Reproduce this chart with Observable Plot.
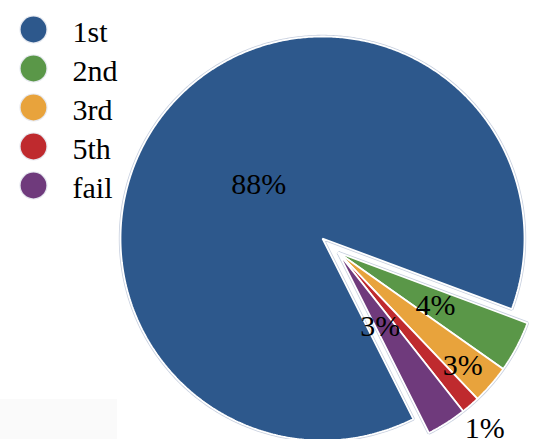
<!DOCTYPE html>
<html>
<head>
<meta charset="utf-8">
<script src="https://cdn.jsdelivr.net/npm/d3@7"></script>
<script src="https://cdn.jsdelivr.net/npm/@observablehq/plot@0.6"></script>
<style>
  html, body { margin: 0; padding: 0; background: #ffffff; }
  #wrap { position: relative; width: 535px; height: 439px; overflow: hidden; }
  #wrap > * { position: absolute; left: 0; top: 0; }
  #shade { left: 0; top: 399px; width: 117px; height: 40px; background: #fafafa; }
</style>
</head>
<body>
<div id="wrap"><div id="shade"></div></div>
<script>
// ---- data ----
const categories = ["1st", "2nd", "3rd", "5th", "fail"];
const values = [88.1, 4.1, 3.1, 1.5, 3.2];
const pctLabels = ["88%", "4%", "3%", "1%", "3%"];
const colors = ["#2d588c", "#5a9748", "#e8a33c", "#bf2a2e", "#6f3a7c"];

// ---- layout (not data) ----
const startAngle = 153.3;            // degrees, clockwise from 12 o'clock
const exploded = [false, true, true, true, true];
const explodeDist = 0.104;           // in radius units, whole exploded group
const labelRadius = [0.413, 0.651, 0.936, 1.236, 0.519];
const labelNudge = [-1.7, 2.9, 1.3, 0.4, -1.0]; // degrees
const font = "Liberation Serif";

const total = d3.sum(values);
const rad = Math.PI / 180;
const toXY = (aDeg, r) => [r * Math.sin(aDeg * rad), r * Math.cos(aDeg * rad)];

let acc = startAngle;
const slices = categories.map((c, i) => {
  const a0 = acc;
  const a1 = acc + 360 * values[i] / total;
  acc = a1;
  return {cat: c, i, a0, a1, mid: (a0 + a1) / 2};
});
const grp = slices.filter((s, i) => exploded[i]);
const grpMid = (d3.min(grp, s => s.a0) + d3.max(grp, s => s.a1)) / 2;
const [gdx, gdy] = toXY(grpMid, explodeDist);

const pts = [];
for (const s of slices) {
  const ox = exploded[s.i] ? gdx : 0;
  const oy = exploded[s.i] ? gdy : 0;
  pts.push({cat: s.cat, x: ox, y: oy});
  const n = Math.max(2, Math.ceil((s.a1 - s.a0) / 0.5));
  for (let k = 0; k <= n; k++) {
    const a = s.a0 + (s.a1 - s.a0) * k / n;
    const [x, y] = toXY(a, 1);
    pts.push({cat: s.cat, x: x + ox, y: y + oy});
  }
}
const labels = slices.map(s => {
  const [x, y] = toXY(s.mid + labelNudge[s.i], labelRadius[s.i]);
  return {text: pctLabels[s.i], x, y};
});

const colorScale = {type: "ordinal", domain: categories, range: colors};

const pie = Plot.plot({
  width: 535,
  height: 439,
  margin: 0,
  style: {background: "transparent", overflow: "visible"},
  x: {domain: [-1, 1], range: [120, 524], axis: null},
  y: {domain: [-1, 1], range: [440, 36], axis: null},
  color: colorScale,
  marks: [
    Plot.line(pts, {x: "x", y: "y", z: "cat", curve: "linear-closed",
      stroke: "#c8d0df", strokeWidth: 3.4, strokeLinejoin: "miter", fill: "none"}),
    Plot.line(pts, {x: "x", y: "y", z: "cat", curve: "linear-closed",
      fill: "cat", stroke: "#ffffff", strokeWidth: 1.8, strokeLinejoin: "miter"}),
    Plot.text(labels, {x: "x", y: "y", text: "text", fill: "#000000",
      fontSize: 30, fontFamily: font, textAnchor: "middle"})
  ]
});

const legend = Plot.plot({
  width: 130,
  height: 215,
  margin: 0,
  style: {background: "transparent", overflow: "visible"},
  x: {domain: [0, 1], range: [33, 72], axis: null},
  y: {type: "point", domain: categories, range: [28, 185], padding: 0, axis: null},
  color: colorScale,
  marks: [
    Plot.dot(categories, {x: () => 0, y: d => d, r: 13.5, fill: d => d,
      stroke: "#e6e9f0", strokeWidth: 1.2}),
    Plot.text(categories, {x: () => 1, y: d => d, text: d => d, fill: "#000000",
      fontSize: 30, fontFamily: font, textAnchor: "start", dy: 3})
  ]
});

const wrap = document.getElementById("wrap");
wrap.appendChild(pie);
wrap.appendChild(legend);
</script>
</body>
</html>
